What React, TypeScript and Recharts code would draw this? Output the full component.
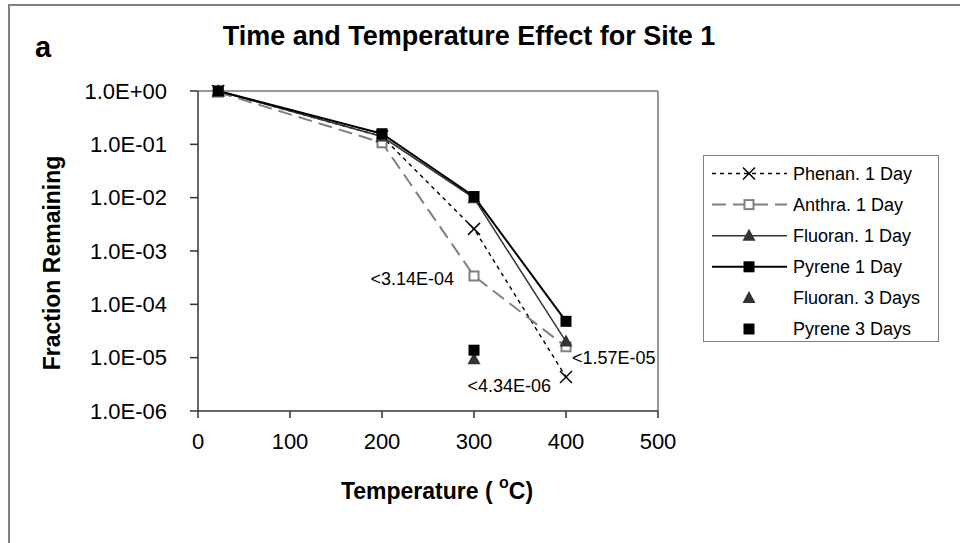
import React from "react";
import { LineChart, Line, XAxis, YAxis, ReferenceLine, Legend, LabelList } from "recharts";

// ---------- data ----------
const temps = [22, 200, 300, 400];
const phenan1 = [1.0, 0.14, 2.6e-3, 4.34e-6];
const anthra1 = [0.95, 0.107, 3.4e-4, 1.6e-5];
const fluoran1 = [1.0, 0.14, 0.0098, 2.0e-5];
const pyrene1 = [1.0, 0.158, 0.0105, 4.8e-5];
const fluoran3: (number | null)[] = [null, null, 9.3e-6, null];
const pyrene3: (number | null)[] = [null, null, 1.38e-5, null];
const anthraNotes: (string | null)[] = [null, null, "<3.14E-04", "<1.57E-05"];
const phenanNotes: (string | null)[] = [null, null, null, "<4.34E-06"];

const xTicks = [0, 100, 200, 300, 400, 500];
const yTicks = [1e-6, 1e-5, 1e-4, 1e-3, 1e-2, 1e-1, 1];
const yTickLabels = ["1.0E-06", "1.0E-05", "1.0E-04", "1.0E-03", "1.0E-02", "1.0E-01", "1.0E+00"];

const seriesKeys = ["phenan1", "anthra1", "fluoran1", "pyrene1", "fluoran3", "pyrene3"];
const seriesNames = ["Phenan. 1 Day", "Anthra. 1 Day", "Fluoran. 1 Day", "Pyrene 1 Day", "Fluoran. 3 Days", "Pyrene 3 Days"];

const data = temps.map((t, i) => ({
  t,
  phenan1: phenan1[i],
  anthra1: anthra1[i],
  fluoran1: fluoran1[i],
  pyrene1: pyrene1[i],
  fluoran3: fluoran3[i],
  pyrene3: pyrene3[i],
  anthraNote: anthraNotes[i],
  phenanNote: phenanNotes[i],
}));

// ---------- styles ----------
const FONT = "'Liberation Sans', Arial, sans-serif";

type Marker = "x" | "openSquare" | "triangle" | "square";
const styles: Record<string, { stroke: string; width: number; dash?: string; marker: Marker; mColor: string; line: boolean }> = {
  phenan1: { stroke: "#000", width: 1.4, dash: "4 4", marker: "x", mColor: "#000", line: true },
  anthra1: { stroke: "#808080", width: 2, dash: "14 7", marker: "openSquare", mColor: "#808080", line: true },
  fluoran1: { stroke: "#333", width: 1.5, marker: "triangle", mColor: "#333", line: true },
  pyrene1: { stroke: "#000", width: 2, marker: "square", mColor: "#000", line: true },
  fluoran3: { stroke: "none", width: 0, marker: "triangle", mColor: "#333", line: false },
  pyrene3: { stroke: "none", width: 0, marker: "square", mColor: "#000", line: false },
};

const noteStyle: Record<string, { dx: number; dy: number; anchor: "start" | "end" }> = {
  "<3.14E-04": { dx: -20, dy: 3, anchor: "end" },
  "<1.57E-05": { dx: 6, dy: 11, anchor: "start" },
  "<4.34E-06": { dx: -15, dy: 9, anchor: "end" },
};

function drawMarker(kind: Marker, cx: number, cy: number, color: string, key?: string) {
  switch (kind) {
    case "x":
      return (
        <g key={key}>
          <line x1={cx - 6} y1={cy - 6} x2={cx + 6} y2={cy + 6} stroke={color} strokeWidth={1.5} />
          <line x1={cx - 6} y1={cy + 6} x2={cx + 6} y2={cy - 6} stroke={color} strokeWidth={1.5} />
        </g>
      );
    case "openSquare":
      return <rect key={key} x={cx - 4.5} y={cy - 4.5} width={9} height={9} fill="#fff" stroke={color} strokeWidth={2} />;
    case "triangle":
      return <path key={key} d={`M${cx},${cy - 7} L${cx + 6.5},${cy + 5} L${cx - 6.5},${cy + 5} Z`} fill={color} stroke="none" />;
    case "square":
    default:
      return <rect key={key} x={cx - 5.5} y={cy - 5.5} width={11} height={11} fill={color} stroke="none" />;
  }
}

const makeDot = (k: string) => (props: any) => {
  const { cx, cy, index, value } = props;
  const key = `${k}-dot-${index}`;
  if (cx == null || cy == null || value == null || Number.isNaN(cy)) return <g key={key} />;
  return drawMarker(styles[k].marker, cx, cy, styles[k].mColor, key);
};

const renderNote = (props: any) => {
  const { x, y, value, index } = props;
  if (!value || x == null || y == null) return <g key={`note-${index}`} />;
  const s = noteStyle[value] || { dx: 0, dy: 0, anchor: "start" };
  return (
    <text
      key={`note-${index}-${value}`}
      x={x + s.dx}
      y={y + s.dy}
      textAnchor={s.anchor}
      dominantBaseline="central"
      fontSize={18}
      fontFamily={FONT}
      fill="#000"
    >
      {value}
    </text>
  );
};

const LegendBox = () => (
  <div
    style={{
      width: 236,
      height: 187,
      border: "1.5px solid #808080",
      boxSizing: "border-box",
      background: "#fff",
    }}
  >
    <svg width={233} height={184} style={{ display: "block" }}>
      {seriesKeys.map((k, i) => {
        const s = styles[k];
        const y = 17.5 + i * 31.1;
        return (
          <g key={k}>
            {s.line && (
              <line x1={8} y1={y} x2={83} y2={y} stroke={s.stroke} strokeWidth={s.width} strokeDasharray={s.dash} />
            )}
            {drawMarker(s.marker, 45, y, s.mColor)}
            <text x={89} y={y} dominantBaseline="central" fontSize={18} fontFamily={FONT} fill="#000">
              {seriesNames[i]}
            </text>
          </g>
        );
      })}
    </svg>
  </div>
);

export default function App() {
  return (
    <div
      style={{
        position: "absolute",
        left: 0,
        top: 0,
        width: 960,
        height: 543,
        overflow: "hidden",
        background: "#fff",
        fontFamily: FONT,
      }}
    >
      <div
        style={{
          position: "absolute",
          left: 8,
          top: 4,
          width: 1200,
          height: 1200,
          border: "2px solid #808080",
        }}
      />
      <div style={{ position: "absolute", left: 0, top: 0 }}>
        <LineChart width={960} height={543} data={data} margin={{ top: 91, right: 302, bottom: 0, left: 0 }}>
          <XAxis
            dataKey="t"
            type="number"
            domain={[0, 500]}
            ticks={xTicks}
            interval={0}
            stroke="#333"
            strokeWidth={1.5}
            tickSize={7}
            tickMargin={15}
            tick={{ fill: "#000", fontSize: 22, fontFamily: FONT }}
            height={132}
            label={() => (
              <text
                x={437}
                y={491}
                textAnchor="middle"
                dominantBaseline="central"
                fontSize={23}
                fontWeight="bold"
                fontFamily={FONT}
                fill="#000"
                style={{ whiteSpace: "pre" }}
              >
                {"Temperature (\u00a0"}
                <tspan dy={-9} fontSize={16}>o</tspan>
                <tspan dy={9}>C)</tspan>
              </text>
            )}
          />
          <YAxis
            type="number"
            scale="log"
            domain={[1e-6, 1]}
            ticks={yTicks}
            interval={0}
            width={198}
            stroke="#333"
            strokeWidth={1.5}
            tickSize={8}
            tickMargin={23}
            tick={{ fill: "#000", fontSize: 22, fontFamily: FONT }}
            tickFormatter={(v: number, i: number) => yTickLabels[yTicks.indexOf(v)] ?? yTickLabels[i]}
            label={() => (
              <text
                x={52}
                y={263}
                transform="rotate(-90 52 263)"
                textAnchor="middle"
                dominantBaseline="central"
                fontSize={23}
                fontWeight="bold"
                fontFamily={FONT}
                fill="#000"
              >
                Fraction Remaining
              </text>
            )}
          />
          <ReferenceLine y={1} stroke="#999" strokeWidth={2} ifOverflow="visible" />
          <ReferenceLine x={500} stroke="#999" strokeWidth={2} ifOverflow="visible" />
          <Legend
            layout="horizontal"
            verticalAlign="middle"
            align="center"
            wrapperStyle={{ left: 703, top: 155, width: 236, height: 187 }}
            content={() => <LegendBox />}
          />
          {seriesKeys.map((k, i) => (
            <Line
              key={k}
              dataKey={k}
              name={seriesNames[i]}
              type="linear"
              stroke={styles[k].stroke}
              strokeWidth={styles[k].width}
              strokeDasharray={styles[k].dash}
              dot={makeDot(k)}
              activeDot={false}
              isAnimationActive={false}
              connectNulls={false}
            >
              {k === "anthra1" && <LabelList dataKey="anthraNote" content={renderNote} />}
              {k === "phenan1" && <LabelList dataKey="phenanNote" content={renderNote} />}
            </Line>
          ))}
        </LineChart>
      </div>
      <svg width={960} height={543} style={{ position: "absolute", left: 0, top: 0, pointerEvents: "none" }}>
        <text x={469} y={45} textAnchor="middle" fontSize={27} fontWeight="bold" fontFamily={FONT} fill="#000">
          Time and Temperature Effect for Site 1
        </text>
        <text x={35} y={57} fontSize={29} fontWeight="bold" fontFamily={FONT} fill="#000">
          a
        </text>
      </svg>
    </div>
  );
}
